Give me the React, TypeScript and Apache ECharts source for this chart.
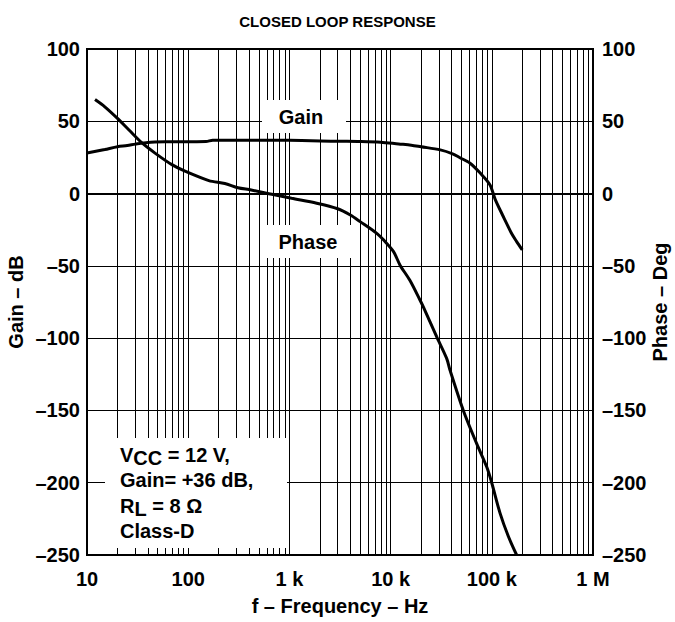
import React, { useEffect, useRef } from "react";
import * as echarts from "echarts";

const FONT = "'Liberation Sans', Arial, Helvetica, sans-serif";

// Gain (dB) vs frequency (Hz)
const gainFreq = [10, 15, 20, 25, 30, 40, 60, 150, 175, 1000, 3000, 5000, 8000, 12000, 16000, 20000, 31000, 41000, 48500, 61000, 76000, 96000, 108000, 128000, 140000, 158000, 176000, 200000];
const gainDb = [28, 30.5, 32.4, 33.2, 34.2, 35.4, 35.8, 36, 36.9, 36.8, 36.2, 36, 35.5, 34.3, 33.5, 32.4, 30.2, 27.5, 24.8, 21, 14.5, 6, -4, -15, -20.6, -28, -33.2, -39];

// Phase (deg) vs frequency (Hz)
const phaseFreq = [12, 15, 20, 26, 35, 47, 69, 93, 160, 230, 310, 420, 670, 1050, 1860, 3000, 4000, 5000, 7300, 8500, 10650, 12400, 15500, 19500, 21000, 28500, 35800, 38600, 52300, 70900, 89000, 99800, 120600, 145600, 176000];
const phaseDeg = [65, 60, 52, 44, 35, 28, 20, 15.5, 9, 7, 4, 2.5, -0.5, -3.3, -6.7, -10.5, -14.8, -19.4, -27.5, -32, -40, -49.5, -60, -73.6, -78.2, -99, -114, -122, -150, -173, -189, -200, -221, -237, -250];

// Minor (2..9) grid frequencies for the log axis
const minorGridFreq = [
  20, 30, 40, 50, 60, 70, 80, 90,
  200, 300, 400, 500, 600, 700, 800, 900,
  2000, 3000, 4000, 5000, 6000, 7000, 8000, 9000,
  20000, 30000, 40000, 50000, 60000, 70000, 80000, 90000,
  200000, 300000, 400000, 500000, 600000, 700000, 800000, 900000,
];

const xTickLabels: Record<number, string> = { 1: "10", 2: "100", 3: "1 k", 4: "10 k", 5: "100 k", 6: "1 M" };
const yMin = -250;
const yMax = 100;
const yStep = 50;

const fmtY = (v: number) => (v < 0 ? "\u2013" + Math.abs(v) : String(v));

export default function App() {
  const ref = useRef<HTMLDivElement>(null);

  useEffect(() => {
    if (!ref.current) return;
    const chart = echarts.init(ref.current, undefined, { renderer: "svg" });
    const labelStyle = { color: "#000", fontSize: 20, fontWeight: "bold" as const, fontFamily: FONT };
    const option: any = {
      animation: false,
      backgroundColor: "#fff",
      title: {
        text: "CLOSED LOOP RESPONSE",
        left: "center",
        top: 9,
        textStyle: { color: "#000", fontSize: 15, fontWeight: "bold", fontFamily: FONT },
      },
      grid: {
        left: 87,
        right: 82,
        top: 49,
        bottom: 67,
        containLabel: false,
        outerBoundsMode: "none",
        show: true,
        borderColor: "#000",
        borderWidth: 2,
        backgroundColor: "transparent",
      },
      xAxis: {
        type: "log",
        logBase: 10,
        min: 10,
        max: 1000000,
        splitNumber: 5,
        name: "f \u2013 Frequency \u2013 Hz",
        nameLocation: "middle",
        nameGap: 41,
        nameMoveOverlap: false,
        nameTextStyle: labelStyle,
        axisLine: { show: true, lineStyle: { color: "#000", width: 2 } },
        axisTick: { show: false },
        axisLabel: {
          ...labelStyle,
          margin: 14,
          formatter: (v: number) => xTickLabels[Math.round(Math.log10(v))] ?? "",
        },
        splitLine: { show: true, lineStyle: { color: "#000", width: 1 } },
      },
      yAxis: [
        {
          type: "value",
          min: yMin,
          max: yMax,
          interval: yStep,
          position: "left",
          name: "Gain \u2013 dB",
          nameLocation: "middle",
          nameGap: 61,
          nameMoveOverlap: false,
          nameTextStyle: labelStyle,
          axisLine: { show: true, lineStyle: { color: "#000", width: 2 } },
          axisTick: { show: false },
          axisLabel: { ...labelStyle, margin: 7, formatter: fmtY },
          splitLine: { show: true, lineStyle: { color: "#000", width: 1 } },
        },
        {
          type: "value",
          min: yMin,
          max: yMax,
          interval: yStep,
          position: "right",
          name: "Phase \u2013 Deg",
          nameLocation: "middle",
          nameGap: 57,
          nameMoveOverlap: false,
          nameTextStyle: labelStyle,
          axisLine: { show: true, lineStyle: { color: "#000", width: 2 } },
          axisTick: { show: false },
          axisLabel: { ...labelStyle, margin: 9, formatter: fmtY },
          splitLine: { show: false },
        },
      ],
      series: [
        {
          name: "minor grid",
          type: "line",
          data: [],
          z: 1,
          silent: true,
          markLine: {
            silent: true,
            symbol: "none",
            label: { show: false },
            lineStyle: { color: "#000", width: 1, type: "solid" },
            data: minorGridFreq.map((f) => ({ xAxis: f })),
          },
        },
        {
          name: "Gain",
          type: "line",
          yAxisIndex: 0,
          z: 5,
          showSymbol: false,
          smooth: 0.3,
          lineStyle: { color: "#000", width: 3 },
          data: gainFreq.map((f, i) => [f, gainDb[i]]),
        },
        {
          name: "Phase",
          type: "line",
          yAxisIndex: 1,
          z: 5,
          showSymbol: false,
          smooth: 0.3,
          lineStyle: { color: "#000", width: 3 },
          data: phaseFreq.map((f, i) => [f, phaseDeg[i]]),
        },
      ],
      graphic: [
        { type: "rect", z: 10, shape: { x: 262, y: 100, width: 84, height: 33 }, style: { fill: "#fff" } },
        {
          type: "text", z: 11, x: 301, y: 117,
          style: { text: "Gain", fill: "#000", font: `bold 20px ${FONT}`, align: "center", verticalAlign: "middle" },
        },
        { type: "rect", z: 10, shape: { x: 262, y: 225, width: 94, height: 33 }, style: { fill: "#fff" } },
        {
          type: "text", z: 11, x: 308, y: 242,
          style: { text: "Phase", fill: "#000", font: `bold 20px ${FONT}`, align: "center", verticalAlign: "middle" },
        },
        { type: "rect", z: 10, shape: { x: 105, y: 438, width: 182, height: 110 }, style: { fill: "#fff" } },
        {
          type: "text", z: 11, x: 120, y: 442,
          style: {
            text: "{n|V}{s|CC}{n| = 12 V,}\n{n|Gain= +36 dB,}\n{n|R}{s|L}{n| = 8 \u03A9}\n{n|Class-D}",
            fill: "#000",
            align: "left",
            verticalAlign: "top",
            rich: {
              n: { fontSize: 20, fontWeight: "bold", fontFamily: FONT, lineHeight: 25.5, fill: "#000" },
              s: { fontSize: 20, fontWeight: "bold", fontFamily: FONT, lineHeight: 14, verticalAlign: "bottom", fill: "#000" },
            },
          },
        },
      ],
    };
    chart.setOption(option);
    return () => chart.dispose();
  }, []);

  return <div ref={ref} style={{ position: "fixed", left: 0, top: 0, width: 675, height: 622 }} />;
}
